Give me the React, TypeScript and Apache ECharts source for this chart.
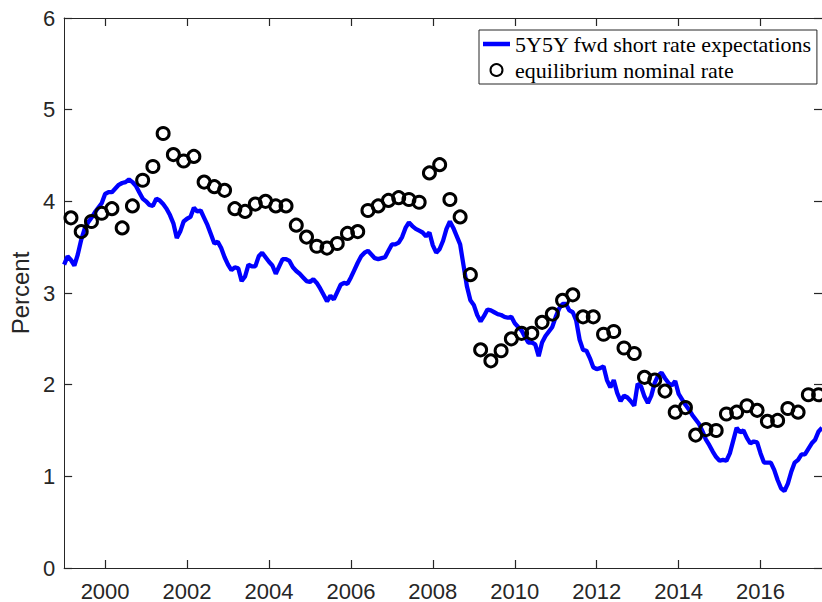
import React, { useEffect, useRef } from "react";
import * as echarts from "echarts";

// 5Y5Y forward short rate expectations, monthly, Jan 1999 .. Jul 2017
const fwdStartYear = 1999;
const fwdRate = [
  3.31, 3.40, 3.36, 3.30, 3.42, 3.58, 3.70, 3.77, 3.82, 3.88, 3.93, 3.98,
  4.08, 4.10, 4.10, 4.14, 4.18, 4.20, 4.21, 4.24, 4.21, 4.17, 4.10, 4.03,
  4.00, 3.96, 3.95, 4.03, 4.01, 3.97, 3.92, 3.85, 3.76, 3.60, 3.67, 3.78,
  3.81, 3.83, 3.93, 3.89, 3.90, 3.82, 3.74, 3.64, 3.54, 3.56, 3.49, 3.39,
  3.31, 3.25, 3.28, 3.27, 3.13, 3.18, 3.31, 3.29, 3.29, 3.40, 3.44, 3.39,
  3.34, 3.30, 3.21, 3.29, 3.37, 3.37, 3.35, 3.28, 3.24, 3.21, 3.17, 3.13,
  3.12, 3.15, 3.11, 3.05, 2.98, 2.91, 2.97, 2.93, 3.01, 3.09, 3.11, 3.10,
  3.17, 3.25, 3.33, 3.40, 3.44, 3.46, 3.42, 3.38, 3.37, 3.38, 3.39, 3.46,
  3.53, 3.53, 3.55, 3.61, 3.71, 3.77, 3.73, 3.70, 3.68, 3.66, 3.62, 3.66,
  3.52, 3.44, 3.48, 3.57, 3.70, 3.78, 3.71, 3.62, 3.53, 3.30, 3.07, 2.92,
  2.87, 2.76, 2.69, 2.75, 2.82, 2.81, 2.79, 2.77, 2.76, 2.74, 2.73, 2.74,
  2.67, 2.63, 2.59, 2.52, 2.46, 2.46, 2.44, 2.31, 2.46, 2.53, 2.58, 2.63,
  2.74, 2.83, 2.88, 2.88, 2.81, 2.79, 2.70, 2.49, 2.38, 2.37, 2.29, 2.19,
  2.17, 2.18, 2.20, 2.05, 1.97, 2.05, 1.91, 1.82, 1.88, 1.86, 1.82, 1.77,
  2.01, 1.98, 1.87, 1.80, 1.88, 2.02, 2.10, 2.13, 2.07, 2.02, 1.99, 2.04,
  1.90, 1.84, 1.78, 1.73, 1.67, 1.62, 1.57, 1.49, 1.40, 1.34, 1.27, 1.21,
  1.17, 1.18, 1.17, 1.25, 1.39, 1.53, 1.48, 1.50, 1.42, 1.36, 1.38, 1.37,
  1.25, 1.15, 1.15, 1.15, 1.07, 0.96, 0.87, 0.84, 0.92, 1.05, 1.15, 1.18,
  1.24, 1.24, 1.30, 1.36, 1.40, 1.49, 1.53,
];

// Equilibrium nominal rate, quarterly, 1999Q1 .. 2017Q2
const eqStartYear = 1999 + 2 / 12;
const eqRate = [
  3.82, 3.67, 3.78, 3.87, 3.92, 3.71, 3.95, 4.23, 4.38, 4.74,
  4.51, 4.44, 4.49, 4.21, 4.16, 4.12, 3.92, 3.89, 3.97, 4.00,
  3.95, 3.95, 3.74, 3.61, 3.51, 3.49, 3.54, 3.65, 3.67, 3.90,
  3.95, 4.01, 4.04, 4.02, 3.99, 4.31, 4.40, 4.02, 3.83, 3.20,
  2.38, 2.26, 2.37, 2.50, 2.56, 2.56, 2.68, 2.77, 2.92, 2.98,
  2.74, 2.74, 2.55, 2.58, 2.40, 2.34, 2.08, 2.05, 1.93, 1.70,
  1.75, 1.45, 1.51, 1.50, 1.68, 1.70, 1.77, 1.72, 1.60, 1.61,
  1.74, 1.70, 1.89, 1.89,
];

const xTickLabels = [2000, 2002, 2004, 2006, 2008, 2010, 2012, 2014, 2016];
const seriesNames = ["5Y5Y fwd short rate expectations", "equilibrium nominal rate"];
const yLabel = "Percent";

const AXIS = "#262626";

export default function App() {
  const ref = useRef<HTMLDivElement>(null);
  useEffect(() => {
    if (!ref.current) return;
    const chart = echarts.init(ref.current, undefined, { renderer: "svg" });
    const fwdData = fwdRate.map((v, i) => [fwdStartYear + i / 12, v]);
    const eqData = eqRate.map((v, i) => [eqStartYear + i * 0.25, v]);
    const sans = "'Liberation Sans', Arial, Helvetica, sans-serif";
    const serif = "'Liberation Serif', 'Times New Roman', serif";
    const xCommon = {
      type: "value" as const,
      min: 1999,
      max: 2017.5,
      splitLine: { show: false },
      axisLine: { show: true, onZero: false, lineStyle: { color: AXIS, width: 1 } },
    };
    const yCommon = {
      type: "value" as const,
      min: 0,
      max: 6,
      interval: 1,
      splitLine: { show: false },
      axisLine: { show: true, onZero: false, lineStyle: { color: AXIS, width: 1 } },
    };
    const tick = { show: true, inside: true, length: 8, lineStyle: { color: AXIS, width: 1.2 } };
    chart.setOption({
      animation: false,
      backgroundColor: "#ffffff",
      grid: { left: 59, right: 0, top: 18, bottom: 33, containLabel: false },
      xAxis: [
        {
          ...xCommon,
          position: "bottom",
          axisTick: { ...tick, customValues: xTickLabels },
          axisLabel: {
            show: true,
            customValues: xTickLabels,
            color: AXIS,
            fontSize: 22,
            fontFamily: sans,
            margin: 12,
            formatter: (v: number) => String(v),
          },
        },
        {
          ...xCommon,
          position: "top",
          axisTick: { ...tick, customValues: xTickLabels },
          axisLabel: { show: false },
        },
      ],
      yAxis: [
        {
          ...yCommon,
          position: "left",
          name: yLabel,
          nameLocation: "middle",
          nameGap: 30,
          nameTextStyle: { color: AXIS, fontSize: 24, fontFamily: sans },
          axisTick: tick,
          axisLabel: { color: AXIS, fontSize: 22, fontFamily: sans, margin: 9 },
        },
        {
          ...yCommon,
          position: "right",
          axisTick: tick,
          axisLabel: { show: false },
        },
      ],
      legend: {
        orient: "vertical",
        left: 479,
        top: 30,
        padding: [3, 5, 3, 4],
        itemGap: 4,
        itemWidth: 27,
        itemHeight: 12,
        backgroundColor: "#ffffff",
        borderColor: AXIS,
        borderWidth: 1,
        borderRadius: 0,
        textStyle: { fontFamily: serif, fontSize: 22, color: "#000000" },
        data: [
          { name: seriesNames[0], icon: "path://M0,0 L27,0 L27,4.5 L0,4.5 Z", itemStyle: { color: "#0000ff", borderWidth: 0, opacity: 1 } },
          { name: seriesNames[1] },
        ],
      },
      series: [
        {
          name: seriesNames[0],
          type: "line",
          data: fwdData,
          showSymbol: false,
          symbol: "none",
          lineStyle: { color: "#0000ff", width: 4.3 },
          itemStyle: { color: "#0000ff" },
          z: 2,
        },
        {
          name: seriesNames[1],
          type: "scatter",
          data: eqData,
          symbol: "circle",
          symbolSize: 12,
          itemStyle: { color: "rgba(0,0,0,0)", borderColor: "#000000", borderWidth: 3, opacity: 1 },
          z: 3,
        },
      ],
    });
    return () => chart.dispose();
  }, []);
  return (
    <div
      ref={ref}
      style={{ position: "fixed", left: 0, top: 0, width: 822, height: 602, background: "#fff" }}
    />
  );
}
